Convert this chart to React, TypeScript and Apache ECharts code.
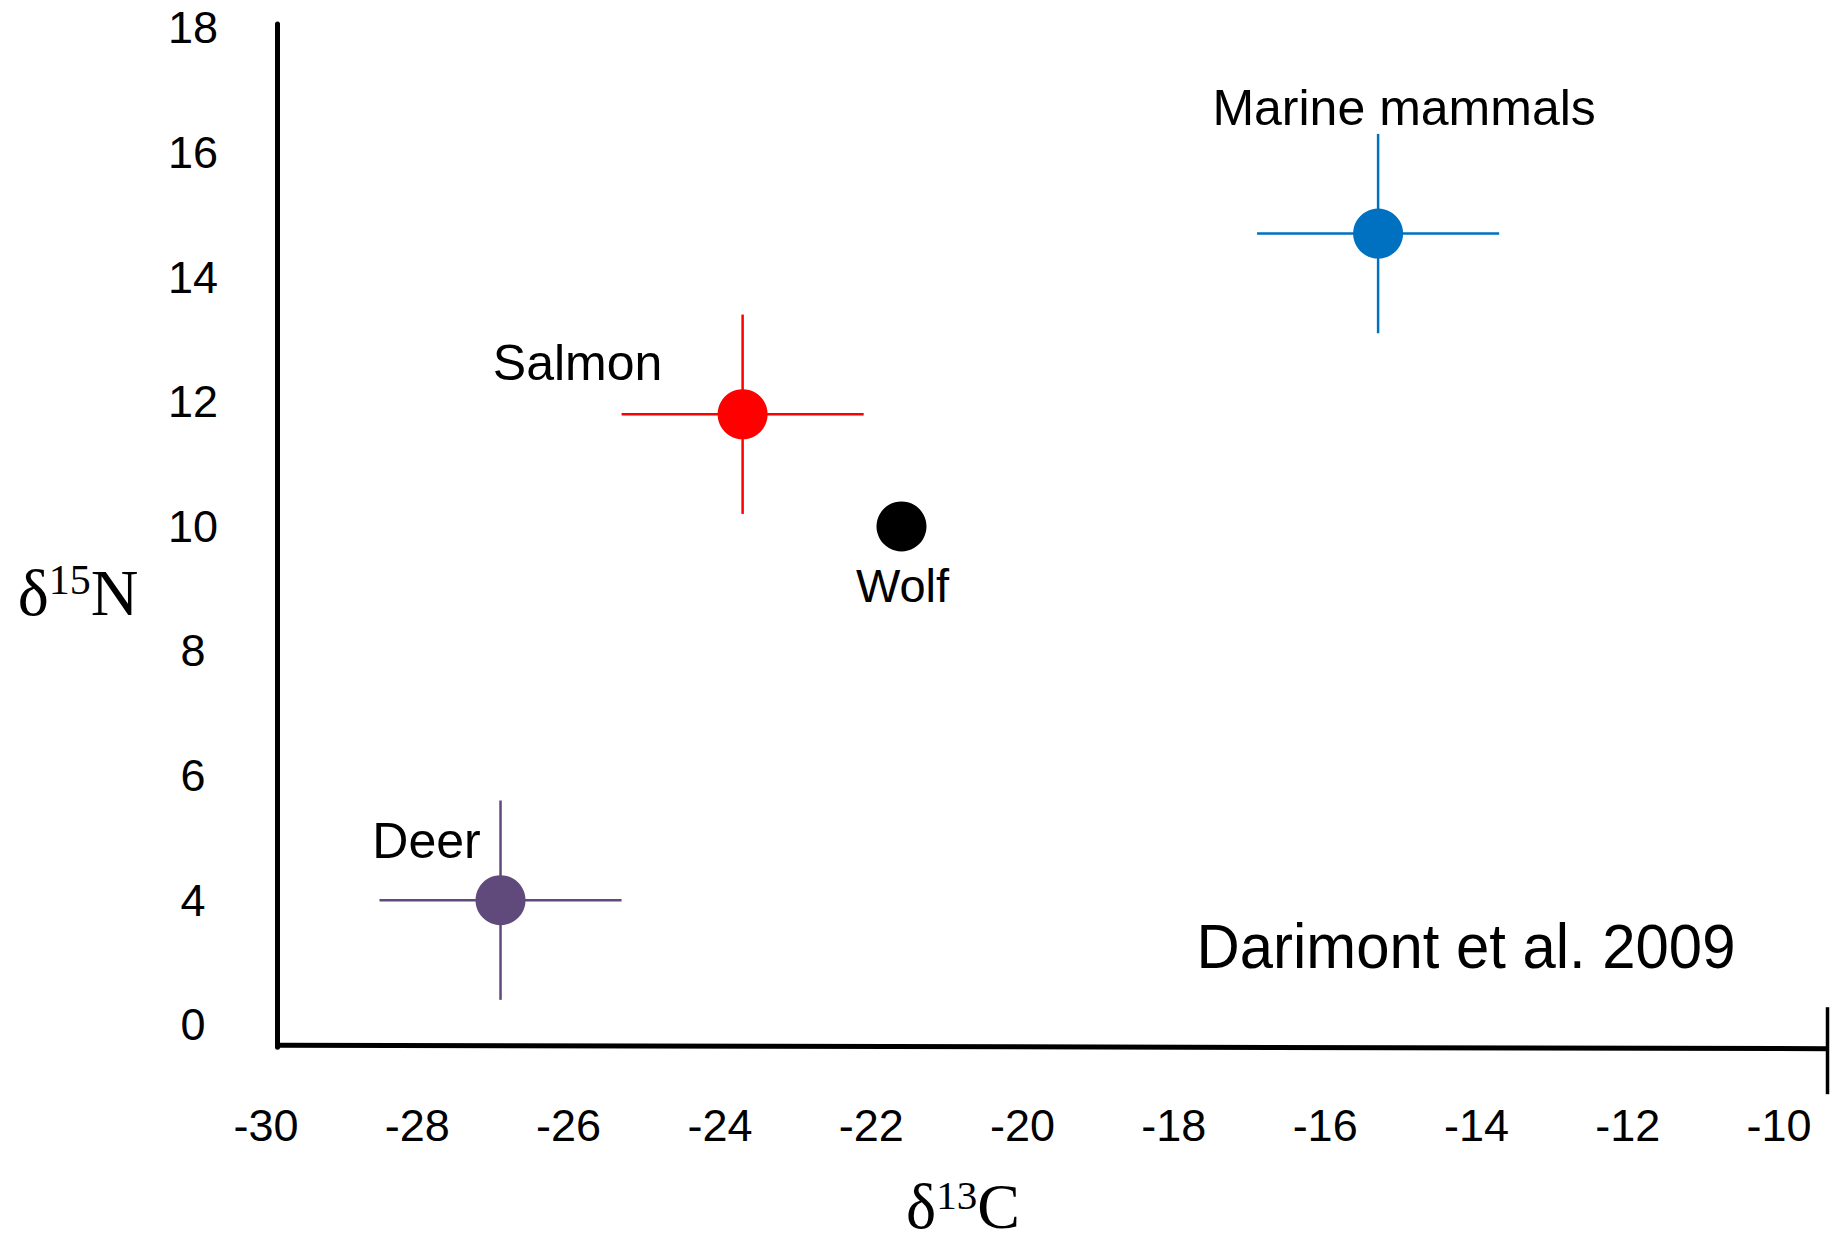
import React, { useEffect, useRef } from "react";
import * as echarts from "echarts";

// ---- data ----
const groups = ["Marine mammals", "Salmon", "Wolf", "Deer"];
const d13C = [-15.3, -23.7, -21.6, -26.9];
const d15N = [14.7, 11.8, 10.0, 4.0];
const errC = [1.6, 1.6, 0, 1.6];
const errN = [1.6, 1.6, 0, 1.6];
const xTickValues = [-30, -28, -26, -24, -22, -20, -18, -16, -14, -12, -10];
const yTickValues = [2, 4, 6, 8, 10, 12, 14, 16, 18];
const yTickLabels = ["0", "4", "6", "8", "10", "12", "14", "16", "18"];
const sourceNote = "Darimont et al. 2009";

// ---- styles ----
const colors = ["#0070C0", "#FF0000", "#000000", "#604A7B"];
const labelOffsets: [number, number][] = [
  [26, -126],
  [-165, -51],
  [1, 59],
  [-74, -59],
];
const labelSizes = [50, 50, 47, 50];
const X_MIN = -30;
const X_MAX = -9.34;
const Y_MIN = 1.64;
const Y_MAX = 18.064;
const SANS = '"Liberation Sans", Arial, sans-serif';
const SERIF = '"Liberation Serif", "DejaVu Serif", serif';

export default function App() {
  const ref = useRef<HTMLDivElement>(null);

  useEffect(() => {
    if (!ref.current) return;
    const chart = echarts.init(ref.current, null, { renderer: "svg" });

    const errData = groups.map((g, i) => ({
      name: g,
      value: [d13C[i], d15N[i], errC[i], errN[i]],
      itemStyle: { color: colors[i] },
    }));
    const pointData = groups.map((g, i) => ({
      name: g,
      value: [d13C[i], d15N[i]],
      itemStyle: { color: colors[i], opacity: 1 },
      label: { offset: labelOffsets[i], fontSize: labelSizes[i] },
    }));

    const renderItem = (params: any, api: any) => {
      const x = api.value(0);
      const y = api.value(1);
      const ex = api.value(2);
      const ey = api.value(3);
      const color = api.visual("color");
      if (!ex && !ey) return { type: "group", children: [] };
      const l = api.coord([x - ex, y]);
      const r = api.coord([x + ex, y]);
      const t = api.coord([x, y + ey]);
      const b = api.coord([x, y - ey]);
      return {
        type: "group",
        children: [
          {
            type: "line",
            shape: { x1: l[0], y1: l[1], x2: r[0], y2: r[1] },
            style: { stroke: color, lineWidth: 2.5 },
          },
          {
            type: "line",
            shape: { x1: t[0], y1: t[1], x2: b[0], y2: b[1] },
            style: { stroke: color, lineWidth: 2.5 },
          },
        ],
      };
    };

    const option: any = {
      animation: false,
      backgroundColor: "#ffffff",
      grid: { left: 266, right: 4, top: 24, bottom: 192.8, containLabel: false },
      xAxis: {
        type: "value",
        min: X_MIN,
        max: X_MAX,
        axisLine: { show: false },
        axisTick: { show: false },
        splitLine: { show: false },
        axisLabel: {
          customValues: xTickValues,
          formatter: (v: number) => String(v),
          margin: 56,
          fontSize: 45,
          fontFamily: SANS,
          color: "#000",
        },
      },
      yAxis: {
        type: "value",
        min: Y_MIN,
        max: Y_MAX,
        offset: -11,
        axisLine: { show: true, lineStyle: { color: "#000", width: 5 } },
        axisTick: { show: false },
        splitLine: { show: false },
        axisLabel: {
          customValues: yTickValues,
          formatter: (v: number) => {
            const idx = yTickValues.findIndex((t) => Math.abs(t - v) < 1e-6);
            return idx >= 0 ? yTickLabels[idx] : "";
          },
          align: "center",
          margin: 84,
          fontSize: 45,
          fontFamily: SANS,
          color: "#000",
        },
      },
      series: [
        {
          type: "custom",
          renderItem,
          data: errData,
          encode: { x: 0, y: 1 },
          z: 2,
          silent: true,
        },
        {
          type: "scatter",
          symbol: "circle",
          symbolSize: 50,
          data: pointData,
          z: 3,
          itemStyle: { opacity: 1 },
          label: {
            show: true,
            formatter: "{b}",
            position: "inside",
            color: "#000",
            opacity: 1,
            fontFamily: SANS,
            fontSize: 50,
          },
          emphasis: { disabled: true },
        },
      ],
    };
    chart.setOption(option);

    const pl = chart.convertToPixel({ gridIndex: 0 }, [X_MIN, Y_MIN]) as number[];
    const pr = chart.convertToPixel({ gridIndex: 0 }, [X_MAX, Y_MIN]) as number[];

    chart.setOption({
      graphic: [
        {
          type: "line",
          shape: { x1: pl[0] + 11, y1: pl[1] - 2, x2: pr[0], y2: pr[1] + 1.5 },
          style: { stroke: "#000", lineWidth: 5 },
        },
        {
          type: "line",
          shape: { x1: pr[0] - 1.5, y1: pr[1] - 40, x2: pr[0] - 1.5, y2: pr[1] + 47 },
          style: { stroke: "#000", lineWidth: 3.5 },
        },
        {
          type: "text",
          x: 1466,
          y: 946,
          scaleX: 0.95,
          style: {
            text: sourceNote,
            fill: "#000",
            fontFamily: SANS,
            fontSize: 63,
            textAlign: "center",
            textVerticalAlign: "middle",
          },
        },
        {
          type: "text",
          x: 78,
          y: 592,
          style: {
            text: "{a|δ}{b|15}{a|N}",
            textAlign: "center",
            textVerticalAlign: "middle",
            rich: {
              a: { fontFamily: SERIF, fontSize: 66, fill: "#000" },
              b: { fontFamily: SERIF, fontSize: 42, fill: "#000", verticalAlign: "top" },
            },
          },
        },
        {
          type: "text",
          x: 963,
          y: 1206,
          style: {
            text: "{a|δ}{b|13}{a|C}",
            textAlign: "center",
            textVerticalAlign: "middle",
            rich: {
              a: { fontFamily: SERIF, fontSize: 64, fill: "#000" },
              b: { fontFamily: SERIF, fontSize: 41, fill: "#000", verticalAlign: "top" },
            },
          },
        },
      ],
    });

    return () => chart.dispose();
  }, []);

  return (
    <div
      ref={ref}
      style={{ position: "fixed", left: 0, top: 0, width: 1833, height: 1240, background: "#fff" }}
    />
  );
}
